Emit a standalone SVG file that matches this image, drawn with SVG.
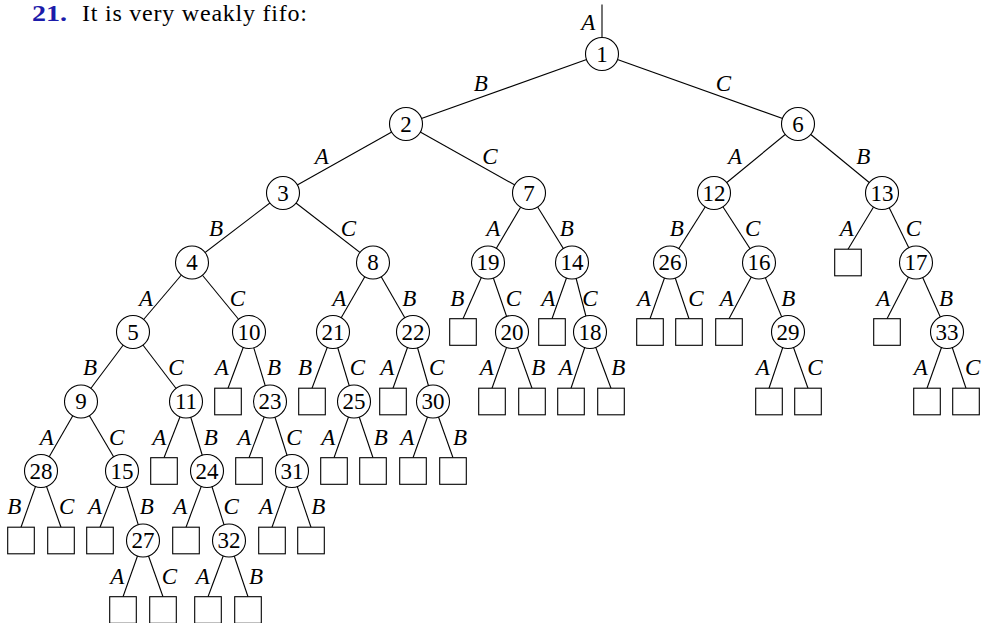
<svg xmlns="http://www.w3.org/2000/svg" width="985" height="623" viewBox="0 0 985 623">
<style>
.e line{stroke:#000;stroke-width:1.1;fill:none}
.n circle{fill:#fff;stroke:#000;stroke-width:1.1}
.s rect{fill:#fff;stroke:#000;stroke-width:1.1}
.n text{font-size:23px;text-anchor:middle;fill:#000}
.l text{font-style:italic;font-size:23px;text-anchor:middle;fill:#000}
</style>
<rect width="985" height="623" fill="#fff"/>
<g id="title" font-family="Liberation Serif, serif" font-size="24">
<text x="32" y="21" font-weight="bold" fill="#1c1caa" textLength="35" lengthAdjust="spacingAndGlyphs">21.</text>
<text x="82" y="21" fill="#000" textLength="225" lengthAdjust="spacing">It is very weakly fifo:</text>
</g>
<g id="connectors" class="e">
<line x1="602" y1="4.5" x2="602" y2="38"/>
<line x1="602" y1="54" x2="406" y2="124"/>
<line x1="602" y1="54" x2="798" y2="124"/>
<line x1="406" y1="124" x2="283" y2="193"/>
<line x1="406" y1="124" x2="529" y2="193"/>
<line x1="798" y1="124" x2="714" y2="193"/>
<line x1="798" y1="124" x2="882" y2="193"/>
<line x1="283" y1="193" x2="192" y2="262.5"/>
<line x1="283" y1="193" x2="373" y2="262.5"/>
<line x1="529" y1="193" x2="488" y2="262.5"/>
<line x1="529" y1="193" x2="572" y2="262.5"/>
<line x1="714" y1="193" x2="670" y2="262.5"/>
<line x1="714" y1="193" x2="759" y2="262.5"/>
<line x1="882" y1="193" x2="848" y2="249.2"/>
<line x1="882" y1="193" x2="916" y2="262.5"/>
<line x1="192" y1="262.5" x2="133" y2="332"/>
<line x1="192" y1="262.5" x2="249" y2="332"/>
<line x1="373" y1="262.5" x2="333" y2="332"/>
<line x1="373" y1="262.5" x2="413" y2="332"/>
<line x1="488" y1="262.5" x2="463" y2="318.7"/>
<line x1="488" y1="262.5" x2="512" y2="332"/>
<line x1="572" y1="262.5" x2="552" y2="318.7"/>
<line x1="572" y1="262.5" x2="590" y2="332"/>
<line x1="670" y1="262.5" x2="650" y2="318.7"/>
<line x1="670" y1="262.5" x2="689" y2="318.7"/>
<line x1="759" y1="262.5" x2="729" y2="318.7"/>
<line x1="759" y1="262.5" x2="788" y2="332"/>
<line x1="916" y1="262.5" x2="887" y2="318.7"/>
<line x1="916" y1="262.5" x2="947" y2="332"/>
<line x1="133" y1="332" x2="81" y2="401.5"/>
<line x1="133" y1="332" x2="186" y2="401.5"/>
<line x1="249" y1="332" x2="228" y2="388.2"/>
<line x1="249" y1="332" x2="270" y2="401.5"/>
<line x1="333" y1="332" x2="312" y2="388.2"/>
<line x1="333" y1="332" x2="354" y2="401.5"/>
<line x1="413" y1="332" x2="393" y2="388.2"/>
<line x1="413" y1="332" x2="433" y2="401.5"/>
<line x1="512" y1="332" x2="492" y2="388.2"/>
<line x1="512" y1="332" x2="532" y2="388.2"/>
<line x1="590" y1="332" x2="571" y2="388.2"/>
<line x1="590" y1="332" x2="611" y2="388.2"/>
<line x1="788" y1="332" x2="769" y2="388.2"/>
<line x1="788" y1="332" x2="808" y2="388.2"/>
<line x1="947" y1="332" x2="927" y2="388.2"/>
<line x1="947" y1="332" x2="966" y2="388.2"/>
<line x1="81" y1="401.5" x2="41" y2="471"/>
<line x1="81" y1="401.5" x2="122" y2="471"/>
<line x1="186" y1="401.5" x2="164" y2="457.7"/>
<line x1="186" y1="401.5" x2="207" y2="471"/>
<line x1="270" y1="401.5" x2="249" y2="457.7"/>
<line x1="270" y1="401.5" x2="292" y2="471"/>
<line x1="354" y1="401.5" x2="334" y2="457.7"/>
<line x1="354" y1="401.5" x2="373" y2="457.7"/>
<line x1="433" y1="401.5" x2="413" y2="457.7"/>
<line x1="433" y1="401.5" x2="453" y2="457.7"/>
<line x1="41" y1="471" x2="21" y2="527.2"/>
<line x1="41" y1="471" x2="61" y2="527.2"/>
<line x1="122" y1="471" x2="100" y2="527.2"/>
<line x1="122" y1="471" x2="143" y2="540.5"/>
<line x1="207" y1="471" x2="186" y2="527.2"/>
<line x1="207" y1="471" x2="229" y2="540.5"/>
<line x1="292" y1="471" x2="272" y2="527.2"/>
<line x1="292" y1="471" x2="311" y2="527.2"/>
<line x1="143" y1="540.5" x2="123" y2="596.7"/>
<line x1="143" y1="540.5" x2="163" y2="596.7"/>
<line x1="229" y1="540.5" x2="208" y2="596.7"/>
<line x1="229" y1="540.5" x2="248" y2="596.7"/>
</g>
<g id="edge-labels" class="l" font-family="Liberation Serif, serif">
<text x="588.3" y="30">A</text>
<text x="480.7" y="91">B</text>
<text x="723.3" y="91">C</text>
<text x="321.7" y="163.8">A</text>
<text x="490" y="163.8">C</text>
<text x="735" y="163.8">A</text>
<text x="863.3" y="163.8">B</text>
<text x="216" y="235.6">B</text>
<text x="348.3" y="235.6">C</text>
<text x="493.3" y="235.6">A</text>
<text x="566.7" y="235.6">B</text>
<text x="676.7" y="235.6">B</text>
<text x="752.7" y="235.6">C</text>
<text x="846.7" y="235.6">A</text>
<text x="913.3" y="235.6">C</text>
<text x="146" y="305.6">A</text>
<text x="237.3" y="305.6">C</text>
<text x="339.3" y="305.6">A</text>
<text x="409.3" y="305.6">B</text>
<text x="457.3" y="305.6">B</text>
<text x="513.3" y="305.6">C</text>
<text x="548.3" y="305.6">A</text>
<text x="590" y="305.6">C</text>
<text x="644" y="305.6">A</text>
<text x="696" y="305.6">C</text>
<text x="726.7" y="305.6">A</text>
<text x="788.3" y="305.6">B</text>
<text x="883.3" y="305.6">A</text>
<text x="946" y="305.6">B</text>
<text x="90" y="375">B</text>
<text x="176" y="375">C</text>
<text x="221.7" y="375">A</text>
<text x="274" y="375">B</text>
<text x="305" y="375">B</text>
<text x="357.3" y="375">C</text>
<text x="387.3" y="375">A</text>
<text x="436.7" y="375">C</text>
<text x="486.7" y="375">A</text>
<text x="538.3" y="375">B</text>
<text x="565.7" y="375">A</text>
<text x="618.3" y="375">B</text>
<text x="762.7" y="375">A</text>
<text x="815" y="375">C</text>
<text x="920.7" y="375">A</text>
<text x="972.7" y="375">C</text>
<text x="46.7" y="444.6">A</text>
<text x="116.7" y="444.6">C</text>
<text x="159.3" y="444.6">A</text>
<text x="210.7" y="444.6">B</text>
<text x="244.3" y="444.6">A</text>
<text x="294" y="444.6">C</text>
<text x="328.3" y="444.6">A</text>
<text x="380.7" y="444.6">B</text>
<text x="407.3" y="444.6">A</text>
<text x="460" y="444.6">B</text>
<text x="14.3" y="514">B</text>
<text x="66.7" y="514">C</text>
<text x="95" y="514">A</text>
<text x="146.7" y="514">B</text>
<text x="180.3" y="514">A</text>
<text x="231.2" y="514">C</text>
<text x="266" y="514">A</text>
<text x="318.3" y="514">B</text>
<text x="117.3" y="584">A</text>
<text x="169.3" y="584">C</text>
<text x="202.7" y="584">A</text>
<text x="256" y="584">B</text>
</g>
<g id="nodes" font-family="Liberation Serif, serif">
<g id="n1" class="n"><circle cx="602" cy="54" r="16.5"/><text x="602" y="61.5">1</text></g>
<g id="n2" class="n"><circle cx="406" cy="124" r="16.5"/><text x="406" y="131.5">2</text></g>
<g id="n6" class="n"><circle cx="798" cy="124" r="16.5"/><text x="798" y="131.5">6</text></g>
<g id="n3" class="n"><circle cx="283" cy="193" r="16.5"/><text x="283" y="200.5">3</text></g>
<g id="n7" class="n"><circle cx="529" cy="193" r="16.5"/><text x="529" y="200.5">7</text></g>
<g id="n12" class="n"><circle cx="714" cy="193" r="16.5"/><text x="714" y="200.5">12</text></g>
<g id="n13" class="n"><circle cx="882" cy="193" r="16.5"/><text x="882" y="200.5">13</text></g>
<g id="n4" class="n"><circle cx="192" cy="262.5" r="16.5"/><text x="192" y="270">4</text></g>
<g id="n8" class="n"><circle cx="373" cy="262.5" r="16.5"/><text x="373" y="270">8</text></g>
<g id="n19" class="n"><circle cx="488" cy="262.5" r="16.5"/><text x="488" y="270">19</text></g>
<g id="n14" class="n"><circle cx="572" cy="262.5" r="16.5"/><text x="572" y="270">14</text></g>
<g id="n26" class="n"><circle cx="670" cy="262.5" r="16.5"/><text x="670" y="270">26</text></g>
<g id="n16" class="n"><circle cx="759" cy="262.5" r="16.5"/><text x="759" y="270">16</text></g>
<g id="leaf-13A" class="s"><rect x="834.7" y="249.2" width="26.6" height="26.6"/></g>
<g id="n17" class="n"><circle cx="916" cy="262.5" r="16.5"/><text x="916" y="270">17</text></g>
<g id="n5" class="n"><circle cx="133" cy="332" r="16.5"/><text x="133" y="339.5">5</text></g>
<g id="n10" class="n"><circle cx="249" cy="332" r="16.5"/><text x="249" y="339.5">10</text></g>
<g id="n21" class="n"><circle cx="333" cy="332" r="16.5"/><text x="333" y="339.5">21</text></g>
<g id="n22" class="n"><circle cx="413" cy="332" r="16.5"/><text x="413" y="339.5">22</text></g>
<g id="leaf-19B" class="s"><rect x="449.7" y="318.7" width="26.6" height="26.6"/></g>
<g id="n20" class="n"><circle cx="512" cy="332" r="16.5"/><text x="512" y="339.5">20</text></g>
<g id="leaf-14A" class="s"><rect x="538.7" y="318.7" width="26.6" height="26.6"/></g>
<g id="n18" class="n"><circle cx="590" cy="332" r="16.5"/><text x="590" y="339.5">18</text></g>
<g id="leaf-26A" class="s"><rect x="636.7" y="318.7" width="26.6" height="26.6"/></g>
<g id="leaf-26C" class="s"><rect x="675.7" y="318.7" width="26.6" height="26.6"/></g>
<g id="leaf-16A" class="s"><rect x="715.7" y="318.7" width="26.6" height="26.6"/></g>
<g id="n29" class="n"><circle cx="788" cy="332" r="16.5"/><text x="788" y="339.5">29</text></g>
<g id="leaf-17A" class="s"><rect x="873.7" y="318.7" width="26.6" height="26.6"/></g>
<g id="n33" class="n"><circle cx="947" cy="332" r="16.5"/><text x="947" y="339.5">33</text></g>
<g id="n9" class="n"><circle cx="81" cy="401.5" r="16.5"/><text x="81" y="409">9</text></g>
<g id="n11" class="n"><circle cx="186" cy="401.5" r="16.5"/><text x="186" y="409">11</text></g>
<g id="leaf-10A" class="s"><rect x="214.7" y="388.2" width="26.6" height="26.6"/></g>
<g id="n23" class="n"><circle cx="270" cy="401.5" r="16.5"/><text x="270" y="409">23</text></g>
<g id="leaf-21B" class="s"><rect x="298.7" y="388.2" width="26.6" height="26.6"/></g>
<g id="n25" class="n"><circle cx="354" cy="401.5" r="16.5"/><text x="354" y="409">25</text></g>
<g id="leaf-22A" class="s"><rect x="379.7" y="388.2" width="26.6" height="26.6"/></g>
<g id="n30" class="n"><circle cx="433" cy="401.5" r="16.5"/><text x="433" y="409">30</text></g>
<g id="leaf-20A" class="s"><rect x="478.7" y="388.2" width="26.6" height="26.6"/></g>
<g id="leaf-20B" class="s"><rect x="518.7" y="388.2" width="26.6" height="26.6"/></g>
<g id="leaf-18A" class="s"><rect x="557.7" y="388.2" width="26.6" height="26.6"/></g>
<g id="leaf-18B" class="s"><rect x="597.7" y="388.2" width="26.6" height="26.6"/></g>
<g id="leaf-29A" class="s"><rect x="755.7" y="388.2" width="26.6" height="26.6"/></g>
<g id="leaf-29C" class="s"><rect x="794.7" y="388.2" width="26.6" height="26.6"/></g>
<g id="leaf-33A" class="s"><rect x="913.7" y="388.2" width="26.6" height="26.6"/></g>
<g id="leaf-33C" class="s"><rect x="952.7" y="388.2" width="26.6" height="26.6"/></g>
<g id="n28" class="n"><circle cx="41" cy="471" r="16.5"/><text x="41" y="478.5">28</text></g>
<g id="n15" class="n"><circle cx="122" cy="471" r="16.5"/><text x="122" y="478.5">15</text></g>
<g id="leaf-11A" class="s"><rect x="150.7" y="457.7" width="26.6" height="26.6"/></g>
<g id="n24" class="n"><circle cx="207" cy="471" r="16.5"/><text x="207" y="478.5">24</text></g>
<g id="leaf-23A" class="s"><rect x="235.7" y="457.7" width="26.6" height="26.6"/></g>
<g id="n31" class="n"><circle cx="292" cy="471" r="16.5"/><text x="292" y="478.5">31</text></g>
<g id="leaf-25A" class="s"><rect x="320.7" y="457.7" width="26.6" height="26.6"/></g>
<g id="leaf-25B" class="s"><rect x="359.7" y="457.7" width="26.6" height="26.6"/></g>
<g id="leaf-30A" class="s"><rect x="399.7" y="457.7" width="26.6" height="26.6"/></g>
<g id="leaf-30B" class="s"><rect x="439.7" y="457.7" width="26.6" height="26.6"/></g>
<g id="leaf-28B" class="s"><rect x="7.7" y="527.2" width="26.6" height="26.6"/></g>
<g id="leaf-28C" class="s"><rect x="47.7" y="527.2" width="26.6" height="26.6"/></g>
<g id="leaf-15A" class="s"><rect x="86.7" y="527.2" width="26.6" height="26.6"/></g>
<g id="n27" class="n"><circle cx="143" cy="540.5" r="16.5"/><text x="143" y="548">27</text></g>
<g id="leaf-24A" class="s"><rect x="172.7" y="527.2" width="26.6" height="26.6"/></g>
<g id="n32" class="n"><circle cx="229" cy="540.5" r="16.5"/><text x="229" y="548">32</text></g>
<g id="leaf-31A" class="s"><rect x="258.7" y="527.2" width="26.6" height="26.6"/></g>
<g id="leaf-31B" class="s"><rect x="297.7" y="527.2" width="26.6" height="26.6"/></g>
<g id="leaf-27A" class="s"><rect x="109.7" y="596.7" width="26.6" height="26.6"/></g>
<g id="leaf-27C" class="s"><rect x="149.7" y="596.7" width="26.6" height="26.6"/></g>
<g id="leaf-32A" class="s"><rect x="194.7" y="596.7" width="26.6" height="26.6"/></g>
<g id="leaf-32B" class="s"><rect x="234.7" y="596.7" width="26.6" height="26.6"/></g>
</g>
</svg>
